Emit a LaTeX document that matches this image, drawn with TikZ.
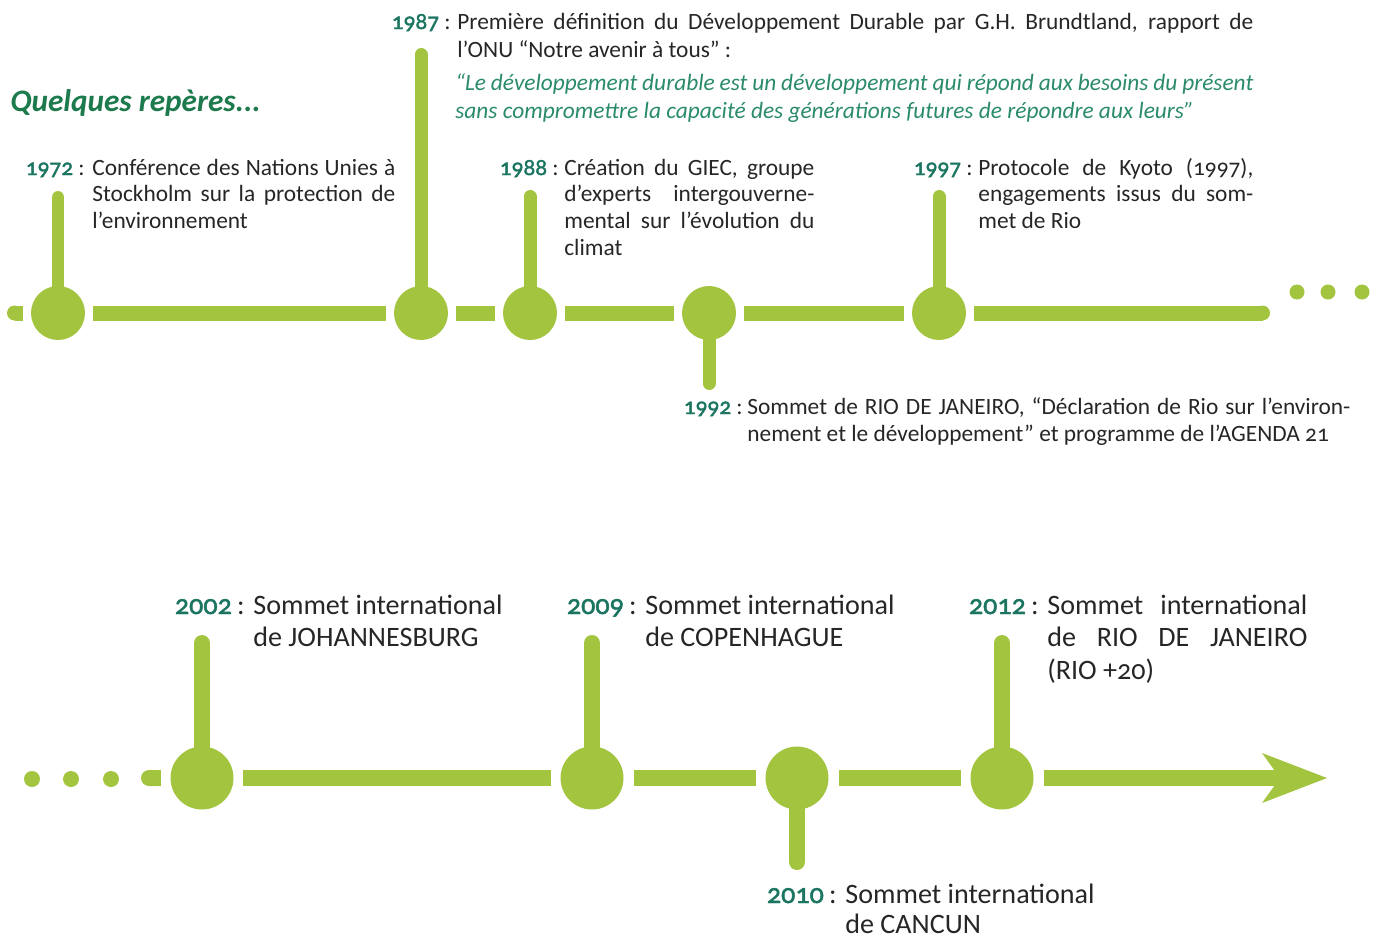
\documentclass[tikz,border=0pt]{standalone}
\usepackage{fontspec}
\setmainfont{Carlito}[Numbers=OldStyle]
\newfontface\yrface{Carlito}[Numbers=OldStyle,FakeBold=1.6]
\usetikzlibrary{arrows.meta}
\definecolor{tlgreen}{HTML}{A3C43E}
\definecolor{yearc}{HTML}{1B7560}
\definecolor{quotec}{HTML}{2A8A6C}
\definecolor{titlec}{HTML}{1C7A4C}
\definecolor{bodyc}{HTML}{262626}
\newdimen\pxu \pxu=0.02cm
\newcommand\JL[2]{\hbox to #1\pxu{#2}}
\newcommand\NL[1]{\hbox{#1}}
\newcommand\yr[1]{{\yrface\color{yearc}#1}\hspace{3pt}:}
\begin{document}
\begin{tikzpicture}[x=0.02cm,y=-0.02cm,
  tdot/.style={circle,fill=tlgreen,inner sep=0,minimum size=1.08cm,outer sep=0.16cm},
  bdot/.style={circle,fill=tlgreen,inner sep=0,minimum size=1.26cm,outer sep=0.2cm},
  sdot/.style={circle,fill=tlgreen,inner sep=0,minimum size=0.3cm},
  bsdot/.style={circle,fill=tlgreen,inner sep=0,minimum size=0.32cm},
  tline/.style={draw=tlgreen,line width=0.3cm},
  tstem/.style={draw=tlgreen,line width=0.26cm,line cap=round},
  bline/.style={draw=tlgreen,line width=0.32cm},
  bstem/.style={draw=tlgreen,line width=0.32cm,line cap=round},
  ttxt/.style={inner sep=0,anchor=base west,text=bodyc,font=\fontsize{13.3}{15.2}\selectfont},
  tyr/.style={inner sep=0,anchor=base east,text=bodyc,font=\fontsize{13.3}{15.2}\selectfont},
  btxt/.style={inner sep=0,anchor=base west,text=bodyc,font=\fontsize{16}{18.7}\selectfont},
  byr/.style={inner sep=0,anchor=base east,text=bodyc,font=\fontsize{16}{18.7}\selectfont},
]
\useasboundingbox (0,0) rectangle (1375,940);

% title
\node[inner sep=0,anchor=base west,text=titlec,font=\fontsize{17.8}{20}\selectfont\bfseries\itshape] (title) at (10,111) {Quelques repères...};

% ---------- top timeline ----------
\node[tdot] (c1972) at (58,313) {};
\node[tdot] (c1987) at (421,313) {};
\node[tdot] (c1988) at (530,313) {};
\node[tdot] (c1992) at (709,313) {};
\node[tdot] (c1997) at (939,313) {};
\coordinate (tl0) at (14.5,313);
\coordinate (tl1) at (1262.5,313);
\fill[tlgreen] (tl0) circle (0.15cm);
\fill[tlgreen] (tl1) circle (0.15cm);
\draw[tline] (tl0) -- (c1972);
\draw[tline] (c1972) -- (c1987);
\draw[tline] (c1987) -- (c1988);
\draw[tline] (c1988) -- (c1992);
\draw[tline] (c1992) -- (c1997);
\draw[tline] (c1997) -- (tl1);

\coordinate (s1972) at (58,197.5);
\coordinate (s1987) at (421,54.5);
\coordinate (s1988) at (530,196.5);
\coordinate (s1992) at (709,383.5);
\coordinate (s1997) at (939,196.5);
\draw[tstem] (c1972.center) -- (s1972);
\draw[tstem] (c1987.center) -- (s1987);
\draw[tstem] (c1988.center) -- (s1988);
\draw[tstem] (c1992.center) -- (s1992);
\draw[tstem] (c1997.center) -- (s1997);

\node[sdot] (td1) at (1297,292) {};
\node[sdot] (td2) at (1328,292) {};
\node[sdot] (td3) at (1362,292) {};

% top texts
\node[tyr] (y1972) at (85,175) {\yr{1972}};
\node[ttxt] (t1972) at (92,175) {\vtop{%
  \JL{303}{Conférence des Nations Unies à}
  \JL{303}{Stockholm sur la protection de}
  \NL{l’environnement}}};

\node[tyr] (y1987) at (451,29) {\yr{1987}};
\node[ttxt,font=\fontsize{13.3}{16}\selectfont] (t1987) at (457,29) {\vtop{%
  \JL{796}{Première définition du Développement Durable par G.H. Brundtland, rapport de}
  \NL{l’ONU “Notre avenir à tous” :}}};
\node[ttxt,text=quotec,font=\fontsize{13.3}{16}\selectfont\itshape] (q1987) at (455,90) {\vtop{%
  \JL{798}{“Le développement durable est un développement qui répond aux besoins du présent}
  \NL{sans compromettre la capacité des générations futures de répondre aux leurs”}}};

\node[tyr] (y1988) at (559,175) {\yr{1988}};
\node[ttxt] (t1988) at (564,175) {\vtop{%
  \JL{250}{Création du GIEC, groupe}
  \JL{250}{d’experts intergouverne-}
  \JL{250}{mental sur l’évolution du}
  \NL{climat}}};

\node[tyr] (y1997) at (973,175) {\yr{1997}};
\node[ttxt] (t1997) at (978,175) {\vtop{%
  \JL{275}{Protocole de Kyoto (1997),}
  \JL{275}{engagements issus du som-}
  \NL{met de Rio}}};

\node[tyr] (y1992) at (743,414) {\yr{1992}};
\node[ttxt,font=\fontsize{13.3}{15.9}\selectfont] (t1992) at (747,414) {\vtop{%
  \JL{603}{Sommet de RIO DE JANEIRO, “Déclaration de Rio sur l’environ-}
  \NL{nement et le développement” et programme de l’AGENDA 21}}};

% ---------- bottom timeline ----------
\node[bdot] (c2002) at (202,778) {};
\node[bdot] (c2009) at (592,778) {};
\node[bdot] (c2010) at (797,778) {};
\node[bdot] (c2012) at (1002,778) {};
\coordinate (bl0) at (141,778);
\coordinate (tip) at (1327,778);
\draw[bline,{Round Cap}-] (bl0) -- (c2002);
\draw[bline] (c2002) -- (c2009);
\draw[bline] (c2009) -- (c2010);
\draw[bline] (c2010) -- (c2012);
\draw[bline,-{Stealth[length=1.3cm,width=1.0cm,inset=0.36cm,line width=0pt]}] (c2012) -- (tip);

\coordinate (s2002) at (202,643);
\coordinate (s2009) at (592,643);
\coordinate (s2012) at (1002,643);
\coordinate (s2010) at (797,862);
\draw[bstem] (c2002.center) -- (s2002);
\draw[bstem] (c2009.center) -- (s2009);
\draw[bstem] (c2012.center) -- (s2012);
\draw[bstem] (c2010.center) -- (s2010);

\node[bsdot] (bd1) at (32,779) {};
\node[bsdot] (bd2) at (71,779) {};
\node[bsdot] (bd3) at (111,779) {};

% bottom texts
\node[byr] (y2002) at (245,614) {\yr{2002}};
\node[btxt] (t2002) at (253,614) {\vtop{%
  \NL{Sommet international}
  \NL{de JOHANNESBURG}}};

\node[byr] (y2009) at (637,614) {\yr{2009}};
\node[btxt] (t2009) at (645,614) {\vtop{%
  \NL{Sommet international}
  \NL{de COPENHAGUE}}};

\node[byr] (y2012) at (1039,614) {\yr{2012}};
\node[btxt] (t2012) at (1047,614) {\vtop{%
  \JL{260}{Sommet international}
  \JL{260}{de RIO DE JANEIRO}
  \NL{(RIO +20)}}};

\node[byr] (y2010) at (837,903) {\yr{2010}};
\node[btxt,font=\fontsize{16}{17.3}\selectfont] (t2010) at (845,903) {\vtop{%
  \NL{Sommet international}
  \NL{de CANCUN}}};
\end{tikzpicture}
\end{document}
